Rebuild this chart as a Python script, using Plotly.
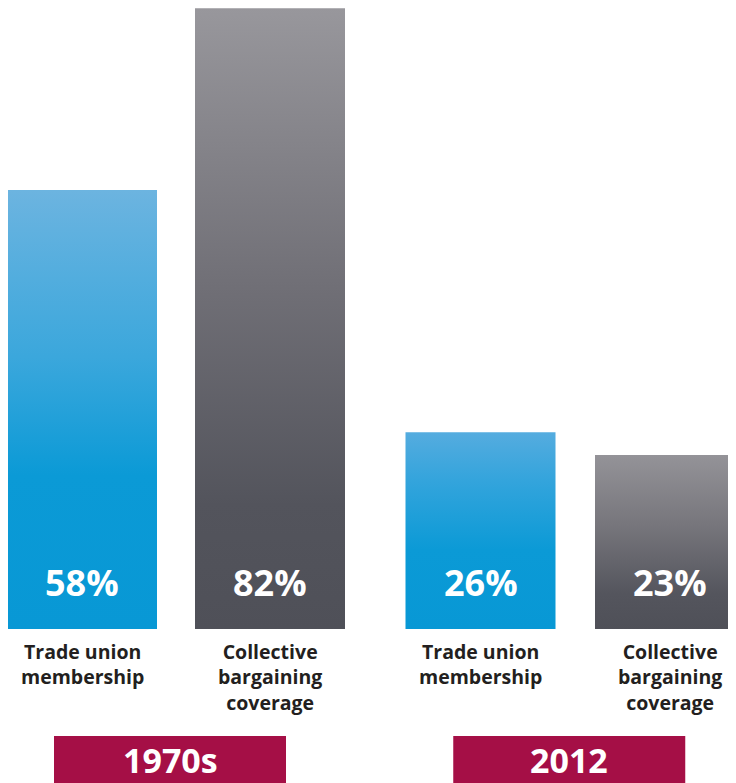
import plotly.graph_objects as go

# ---- data ----
categories = ["Trade union<br>membership", "Collective<br>bargaining<br>coverage",
              "Trade union<br>membership", "Collective<br>bargaining<br>coverage"]
values = [58, 82, 26, 23]
value_labels = ["58%", "82%", "26%", "23%"]
groups = ["1970s", "2012"]
group_members = [[0, 1], [2, 3]]
series_kind = ["union", "bargaining", "union", "bargaining"]

# ---- layout constants (window-pixel x axis, percent y axis) ----
W, H = 736, 783
OFF = 8  # page body margin
centers = [82, 270, 480.5, 670]
bar_w = 150
zero_px = 629
px_per_unit = 7.57
y_top = (zero_px - OFF) / px_per_unit
y_bot = -(H - zero_px) / px_per_unit

def px_to_y(p):
    return (zero_px - p) / px_per_unit

scales = {
    "union": [[0, "#0898d5"], [0.35, "#0b9ad6"], [0.62, "#3ba7dc"], [1, "#6cb4e0"]],
    "bargaining": [[0, "#4f5058"], [0.2, "#53545c"], [0.55, "#706f76"], [1, "#98979c"]],
}
scales_short = {
    "union": [[0, "#0898d5"], [0.4, "#0b9ad6"], [0.75, "#33a4dc"], [1, "#55acdf"]],
    "bargaining": [[0, "#4f5058"], [0.2, "#54555d"], [0.6, "#77767c"], [1, "#949398"]],
}

fig = go.Figure()
for i, v in enumerate(values):
    c = centers[i]
    x0, x1 = c - bar_w / 2, c + bar_w / 2
    cs = scales[series_kind[i]] if v > 40 else scales_short[series_kind[i]]
    fig.add_trace(go.Scatter(
        x=[x0, x1, x1, x0, x0], y=[0, 0, v, v, 0],
        mode="lines", fill="toself", line=dict(width=0),
        fillgradient=dict(type="vertical", colorscale=cs),
        hoverinfo="skip", showlegend=False,
    ))
    fig.add_annotation(x=c, y=px_to_y(582), text=f"<b>{value_labels[i]}</b>",
                       showarrow=False, font=dict(family="Open Sans", size=36, color="white"),
                       xanchor="center", yanchor="middle")
    fig.add_annotation(x=c, y=px_to_y(636), text=f"<b>{categories[i]}</b>",
                       showarrow=False, align="center",
                       font=dict(family="Open Sans", size=19.5, color="#231f20"),
                       xanchor="center", yanchor="top")

box_w = 232
for g, members in zip(groups, group_members):
    gc = sum(centers[m] for m in members) / len(members) - 6
    fig.add_shape(type="rect", x0=gc - box_w / 2, x1=gc + box_w / 2,
                  y0=px_to_y(736), y1=y_bot - 1, fillcolor="#a50f46",
                  line=dict(width=0), layer="below")
    fig.add_annotation(x=gc, y=px_to_y(760), text=f"<b>{g}</b>", showarrow=False,
                       font=dict(family="Open Sans", size=34, color="white"),
                       xanchor="center", yanchor="middle")

fig.update_layout(
    width=W - OFF, height=H - OFF, margin=dict(l=0, r=0, t=0, b=0),
    paper_bgcolor="white", plot_bgcolor="white",
    xaxis=dict(range=[OFF, W], visible=False, fixedrange=True),
    yaxis=dict(range=[y_bot, y_top], visible=False, fixedrange=True),
    showlegend=False,
)
fig.write_html("out.html")
